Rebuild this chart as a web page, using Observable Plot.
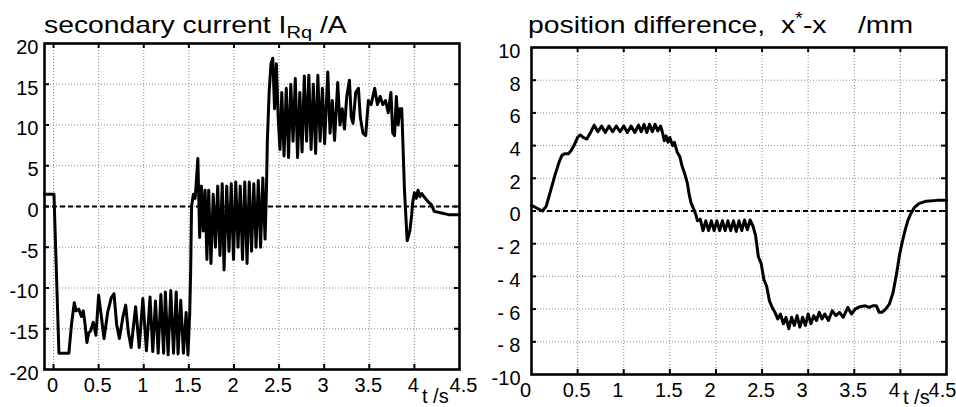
<!DOCTYPE html>
<html>
<head>
<meta charset="utf-8">
<script src="https://cdn.jsdelivr.net/npm/d3@7"></script>
<script src="https://cdn.jsdelivr.net/npm/@observablehq/plot@0.6"></script>
<style>
  html, body { margin: 0; padding: 0; background: #fff; }
  #wrap { position: relative; width: 956px; height: 407px; overflow: hidden; font-family: "Liberation Sans", Arial, Helvetica, sans-serif; }
  .panel { position: absolute; top: 0; }
  .title { position: absolute; white-space: pre; font-size: 24px; line-height: 24px; color: #000; transform-origin: left top; transform: scaleX(1.18); }
  .title sub { font-size: 17px; vertical-align: -5px; line-height: 0; }
  .title sup { font-size: 17px; vertical-align: 9px; line-height: 0; }
  .xlab { position: absolute; white-space: pre; font-size: 20px; line-height: 20px; }
</style>
</head>
<body>
<div id="wrap">
  <div class="panel" id="left" style="left:0px"></div>
  <div class="panel" id="right" style="left:478px"></div>
  <div class="title" id="t1" style="left:44px; top:13px;">secondary current I<sub>Rq</sub> /A</div>
  <div class="title" id="t2" style="left:528px; top:13px;">position difference,  x<sup>*</sup>-x    /mm</div>
  <div class="xlab" style="left:422px; top:386px;">t /s</div>
  <div class="xlab" style="left:903px; top:387px;">t /s</div>
</div>
<script>
// ---- Data ----
const xTicks = [0, 0.5, 1, 1.5, 2, 2.5, 3, 3.5, 4, 4.5];
const leftYTicks = [-20, -15, -10, -5, 0, 5, 10, 15, 20];
const rightYTicks = [-10, -8, -6, -4, -2, 0, 2, 4, 6, 8, 10];

// secondary current I_Rq (A) vs time (s)
const currentT = [
  -0.1, 0.005, 0.06, 0.17, 0.2, 0.23, 0.25, 0.28, 0.31, 0.33, 0.35, 0.37, 0.39, 0.41, 0.44, 0.47, 0.5,
  0.53, 0.56, 0.6, 0.64, 0.67, 0.7, 0.73, 0.77, 0.8, 0.83, 0.86, 0.91, 0.95, 0.99, 1.03, 1.07,
  1.1, 1.13, 1.16, 1.19, 1.22, 1.24, 1.27, 1.3, 1.33, 1.36, 1.38, 1.41, 1.44, 1.47, 1.49, 1.51,
  1.52, 1.53, 1.55, 1.57, 1.6, 1.62, 1.64, 1.66, 1.68, 1.7, 1.72, 1.745, 1.77, 1.795, 1.82, 1.845,
  1.87, 1.89, 1.92, 1.945, 1.97, 1.995, 2.02, 2.045, 2.07, 2.095, 2.12, 2.145, 2.17, 2.195, 2.22,
  2.245, 2.27, 2.295, 2.32, 2.345, 2.36, 2.37, 2.39, 2.41, 2.43, 2.45, 2.47, 2.49, 2.51, 2.53,
  2.555, 2.58, 2.605, 2.63, 2.655, 2.68, 2.705, 2.73, 2.755, 2.78, 2.805, 2.83, 2.855, 2.88, 2.905,
  2.93, 2.955, 2.98, 3.005, 3.04, 3.065, 3.09, 3.115, 3.15, 3.175, 3.2, 3.225, 3.25, 3.28, 3.3,
  3.32, 3.35, 3.38, 3.4, 3.43, 3.46, 3.49, 3.52, 3.56, 3.59, 3.62, 3.65, 3.68, 3.71, 3.74, 3.76,
  3.78, 3.8, 3.82, 3.84, 3.86, 3.89, 3.92, 3.95, 3.97, 3.98, 4.0, 4.02, 4.04, 4.06, 4.08, 4.12,
  4.16, 4.19, 4.22, 4.3, 4.38, 4.5
];
const currentI = [
  1.5, 1.5, -18, -18, -14.4, -11.8, -12.8, -12.6, -13.5, -12.8, -14.5, -16.7, -15.5, -15.3, -14.2, -15.8, -10.9,
  -13.5, -16.2, -13, -11.2, -10.7, -14.5, -16.2, -13.5, -12.1, -15.5, -17.3, -12.3, -17.3, -11.3, -17.7, -11.1,
  -17.8, -11.6, -18, -10.8, -18, -10.5, -18.2, -10.3, -18, -10.5, -18.1, -11.5, -18, -13, -18.2, -13,
  -8, 0, 1.5, 1, 5.9, -3.8, 2.5, -3, 2, -6.5, 2, -7, 1.5, -5, 2.5, -6,
  2.8, -7.8, 2.5, -5.5, 2.8, -6.5, 3, -5, 2.5, -6.5, 3, -7, 3, -5.5, 2.8,
  -5, 3.2, -5, 3.5, -4, 2, 8, 14, 17.5, 18.2, 12, 17.5, 11, 7, 14,
  6.2, 14.5, 6, 15, 8, 15.7, 6, 14, 6.7, 16, 8, 16.1, 7, 15, 6.5,
  16.1, 8, 14.5, 7.7, 16.5, 9, 13, 8.1, 15.2, 10, 12, 9.5, 13.5, 15.5, 11,
  10.2, 14, 14.5, 11, 9, 8.7, 13, 12.5, 14.5, 12.5, 13.5, 12.5, 13, 11.5, 14, 9,
  8.7, 13.5, 10, 12, 12, 2, -4.2, -3, -1, 0.4, 1.7, 1.0, 2, 1.2, 1.6, 1.0,
  0.5, 0.2, -0.6, -0.8, -1.0, -1.0
];

// position difference x*-x (mm) vs time (s)
const positionT = [
  0, 0.05, 0.12, 0.16, 0.2, 0.26, 0.3, 0.33, 0.36, 0.4, 0.43, 0.46, 0.5, 0.53, 0.56, 0.6, 0.64,
  0.68, 0.72, 0.76, 0.8, 0.84, 0.88, 0.92, 0.96, 1.0, 1.04, 1.08, 1.12, 1.16, 1.19, 1.22, 1.25,
  1.28, 1.31, 1.34, 1.37, 1.4, 1.42, 1.44, 1.46, 1.48, 1.5, 1.53, 1.55, 1.58, 1.61, 1.63, 1.66,
  1.69, 1.71, 1.73, 1.76, 1.78, 1.8, 1.83, 1.86, 1.89, 1.92, 1.95, 1.98, 2.01, 2.04, 2.07, 2.1,
  2.13, 2.16, 2.19, 2.22, 2.25, 2.28, 2.31, 2.34, 2.37, 2.4, 2.43, 2.46, 2.49, 2.52, 2.55, 2.58,
  2.61, 2.64, 2.67, 2.7, 2.73, 2.76, 2.79, 2.82, 2.85, 2.88, 2.91, 2.94, 2.97, 3.0, 3.03, 3.06,
  3.09, 3.12, 3.15, 3.18, 3.22, 3.26, 3.3, 3.34, 3.38, 3.43, 3.47, 3.51, 3.56, 3.62, 3.66, 3.7,
  3.74, 3.77, 3.8, 3.84, 3.88, 3.92, 3.96, 3.99, 4.02, 4.05, 4.08, 4.11, 4.15, 4.2, 4.28, 4.4, 4.5
];
const positionX = [
  0.35, 0.2, 0.0, 0.3, 1.1, 2.3, 3.0, 3.4, 3.5, 3.5, 3.7, 4.0, 4.5, 4.65, 4.5, 4.4, 4.8,
  5.25, 4.85, 5.2, 4.8, 5.2, 4.85, 5.2, 4.85, 5.2, 4.8, 5.2, 4.8, 5.25, 4.85, 5.3, 4.8,
  5.3, 4.85, 5.3, 4.9, 5.2, 4.8, 4.3, 4.6, 4.2, 4.5, 4.0, 4.2, 3.6, 3.3, 2.8, 2.3,
  1.7, 1.0, 0.5, 0.1, -0.2, -0.6, -0.5, -1.2, -0.6, -1.2, -0.6, -1.2, -0.6, -1.2, -0.6, -1.2,
  -0.6, -1.2, -0.6, -1.25, -0.6, -1.2, -0.55, -1.15, -0.55, -0.9, -1.5, -2.8, -3.2, -4.2, -4.6, -5.5,
  -5.9, -6.2, -6.6, -6.3, -6.9, -6.5, -7.2, -6.5, -7.0, -6.4, -7.1, -6.5, -7.0, -6.3, -6.9, -6.4,
  -6.7, -6.2, -6.6, -6.3, -6.7, -6.1, -6.4, -6.2, -6.5, -5.9, -6.3, -6.0, -5.85, -5.8, -5.9, -5.8,
  -5.8, -6.2, -6.2, -6.0, -5.7, -5.0, -3.8, -2.7, -1.9, -1.2, -0.6, -0.2, 0.2, 0.45, 0.6, 0.65, 0.65
];

// ---- Drawing ----
const FONT = "'Liberation Sans', Arial, Helvetica, sans-serif";

function panel({t, v, xDomain, yDomain, yTicks, width, height, mL, mR, mT, mB, yPad, yFormat, gridXTicks, xLabelGroups}) {
  const data = t.map((d, i) => ({t: d, v: v[i]}));
  const [y0, y1] = yDomain;
  const [x0, x1] = xDomain;
  const plotH = height - mT - mB, plotW = width - mL - mR;
  const tickLenY = 5 * (y1 - y0) / plotH;   // 5 px in data units
  const tickLenX = 5 * (x1 - x0) / plotW;
  const innerX = xTicks.filter(d => d > x0 + 1e-9 && d < x1 - 1e-9);
  const innerY = yTicks.filter(d => d > y0 && d < y1);
  return Plot.plot({
    width, height,
    marginLeft: mL, marginRight: mR, marginTop: mT, marginBottom: mB,
    style: {fontFamily: FONT, fontSize: "20px", color: "#000", background: "transparent", overflow: "visible"},
    x: {domain: xDomain},
    y: {domain: yDomain},
    marks: [
      // dotted grid
      Plot.ruleX(gridXTicks, {y1: y0, y2: y1, stroke: "#8a8a8a", strokeWidth: 1, strokeDasharray: "1,2"}),
      Plot.ruleY(innerY, {x1: x0, x2: x1, stroke: "#8a8a8a", strokeWidth: 1, strokeDasharray: "1,2"}),
      // zero reference
      Plot.ruleY([0], {x1: x0, x2: x1, stroke: "#000", strokeWidth: 2, strokeDasharray: "5,3"}),
      // inward tick marks on all four sides
      Plot.ruleX(innerX, {y1: y0, y2: y0 + tickLenY, stroke: "#000", strokeWidth: 2}),
      Plot.ruleX(innerX, {y1: y1, y2: y1 - tickLenY, stroke: "#000", strokeWidth: 2}),
      Plot.ruleY(innerY, {x1: x0, x2: x0 + tickLenX, stroke: "#000", strokeWidth: 2}),
      Plot.ruleY(innerY, {x1: x1, x2: x1 - tickLenX, stroke: "#000", strokeWidth: 2}),
      // the signal
      Plot.line(data, {x: "t", y: "v", stroke: "#000", strokeWidth: 3, strokeLinejoin: "round"}),
      Plot.frame({stroke: "#000", strokeWidth: 2.6}),
      ...xLabelGroups.map(g => Plot.axisX({ticks: g.ticks, tickFormat: d => String(d), tickSize: 0, tickPadding: 8, dx: g.dx, label: null})),
      Plot.axisY({ticks: yTicks, tickFormat: yFormat, tickSize: 0, tickPadding: yPad, dy: 4, label: null})
    ]
  });
}

const left = panel({
  t: currentT, v: currentI,
  xDomain: [-0.1, 4.5], yDomain: [-20, 20], yTicks: leftYTicks,
  width: 478, height: 407, mL: 44, mR: 19, mT: 43, mB: 38, yPad: 6,
  yFormat: d => d < 0 ? "-" + (-d) : String(d),
  gridXTicks: [0, 0.5, 1, 1.5, 2, 2.5, 3, 3.5, 4],
  xLabelGroups: [
    {ticks: [0, 0.5, 1, 1.5, 2, 2.5, 3, 3.5, 4], dx: -1},
    {ticks: [4.5], dx: 4}
  ]
});
document.getElementById("left").appendChild(left);

const right = panel({
  t: positionT, v: positionX,
  xDomain: [0, 4.5], yDomain: [-10, 10], yTicks: rightYTicks,
  width: 478, height: 407, mL: 53, mR: 10, mT: 47, mB: 33, yPad: 11,
  yFormat: d => (d < 0 && d > -10) ? "- " + (-d) : (d < 0 ? "-" + (-d) : String(d)),
  gridXTicks: [0.5, 1, 1.5, 2, 2.5, 3, 3.5, 4],
  xLabelGroups: [
    {ticks: [0, 1, 2, 3, 4], dx: -6},
    {ticks: [0.5, 1.5, 2.5, 3.5], dx: -1},
    {ticks: [4.5], dx: -4}
  ]
});
document.getElementById("right").appendChild(right);
</script>
</body>
</html>
